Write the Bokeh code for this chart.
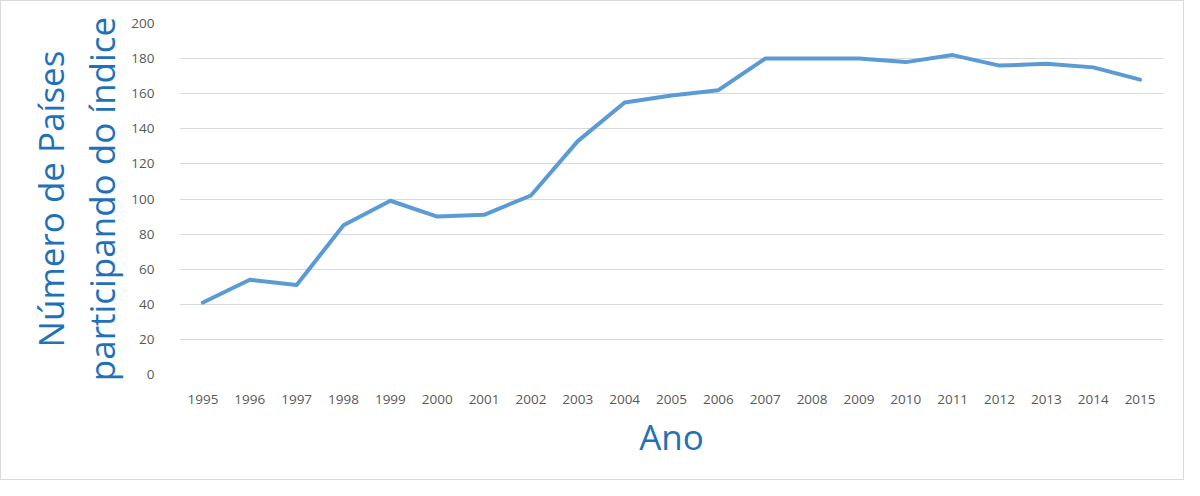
from bokeh.plotting import figure
from bokeh.models import FactorRange, Range1d, FixedTicker
from bokeh.embed import file_html
from bokeh.resources import INLINE

years = [str(y) for y in range(1995, 2016)]
paises = [41, 54, 51, 85, 99, 90, 91, 102, 133, 155, 159, 162,
          180, 180, 180, 178, 182, 176, 177, 175, 168]
y_ticks = [0, 20, 40, 60, 80, 100, 120, 140, 160, 180, 200]
y_title = "Número de Países\nparticipando do índice"
x_title = "Ano"

p = figure(width=1184, height=480, output_backend="svg", toolbar_location=None,
           x_range=FactorRange(factors=years, range_padding=0),
           y_range=Range1d(0, 200),
           min_border_left=178, min_border_right=22, min_border_top=22,
           min_border_bottom=107,
           styles={"border": "1px solid #d9d9d9", "box-sizing": "border-box"})

p.line(x=years, y=paises, line_color="#5B9BD5", line_width=4,
       line_join="round", line_cap="round")

p.outline_line_color = None
p.xgrid.grid_line_color = None
p.ygrid.grid_line_color = "#d9d9d9"
p.ygrid.grid_line_width = 1
p.yaxis.ticker = FixedTicker(ticks=y_ticks)

for ax in (p.xaxis[0], p.yaxis[0]):
    ax.axis_line_color = None
    ax.major_tick_line_color = None
    ax.minor_tick_line_color = None
    ax.major_label_text_color = "#595959"
    ax.major_label_text_font = "Open Sans"
    ax.major_label_text_font_size = "13.5px"
    ax.axis_label_text_color = "#1F72B8"
    ax.axis_label_text_font = "Open Sans"
    ax.axis_label_text_font_size = "35px"
    ax.axis_label_text_font_style = "normal"

p.yaxis.major_label_standoff = 19
p.xaxis.major_label_standoff = 14
p.yaxis.axis_label = y_title
p.yaxis.axis_label_standoff = 3
p.yaxis.axis_label_text_line_height = 1.1
p.xaxis.axis_label = x_title
p.xaxis.axis_label_standoff = 6

open("out.html", "w").write(file_html(p, INLINE))
